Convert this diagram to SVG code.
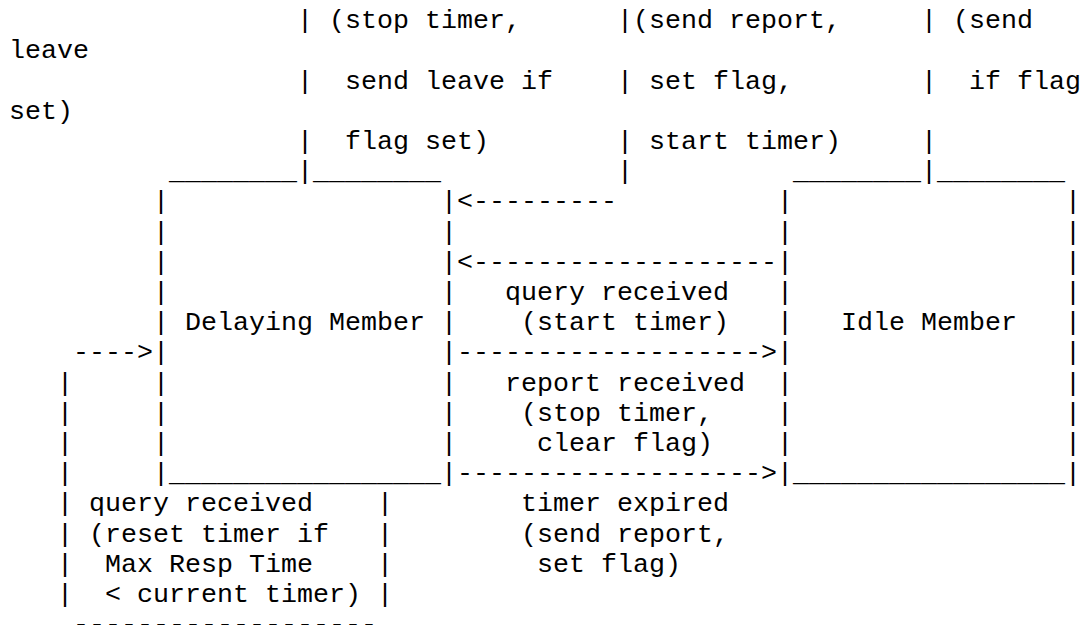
<svg xmlns="http://www.w3.org/2000/svg" width="1086" height="625" viewBox="0 0 1086 625">
<style>
text { font-family: "Liberation Mono", "Courier New", monospace; font-size: 26.667px; fill: #000; white-space: pre; }
</style>
<rect width="1086" height="625" fill="#fff"/>
<g id="node-delaying-member">
  <text x="169" y="179.15">________</text>
  <text x="313" y="179.15">________</text>
  <text x="153"><tspan x="153" y="209.36">|</tspan><tspan x="153" y="239.57">|</tspan><tspan x="153" y="269.78">|</tspan><tspan x="153" y="299.99">|</tspan><tspan x="153" y="330.2">|</tspan><tspan x="153" y="360.41">|</tspan><tspan x="153" y="390.62">|</tspan><tspan x="153" y="420.83">|</tspan><tspan x="153" y="451.04">|</tspan><tspan x="153" y="481.25">|</tspan></text>
  <text x="441"><tspan x="441" y="209.36">|</tspan><tspan x="441" y="239.57">|</tspan><tspan x="441" y="269.78">|</tspan><tspan x="441" y="299.99">|</tspan><tspan x="441" y="330.2">|</tspan><tspan x="441" y="360.41">|</tspan><tspan x="441" y="390.62">|</tspan><tspan x="441" y="420.83">|</tspan><tspan x="441" y="451.04">|</tspan><tspan x="441" y="481.25">|</tspan></text>
  <text x="169" y="481.25">_________________</text>
  <text x="185" y="330.2">Delaying Member</text>
</g>
<g id="node-idle-member">
  <text x="793" y="179.15">________</text>
  <text x="937" y="179.15">________</text>
  <text x="777"><tspan x="777" y="209.36">|</tspan><tspan x="777" y="239.57">|</tspan><tspan x="777" y="269.78">|</tspan><tspan x="777" y="299.99">|</tspan><tspan x="777" y="330.2">|</tspan><tspan x="777" y="360.41">|</tspan><tspan x="777" y="390.62">|</tspan><tspan x="777" y="420.83">|</tspan><tspan x="777" y="451.04">|</tspan><tspan x="777" y="481.25">|</tspan></text>
  <text x="1065"><tspan x="1065" y="209.36">|</tspan><tspan x="1065" y="239.57">|</tspan><tspan x="1065" y="269.78">|</tspan><tspan x="1065" y="299.99">|</tspan><tspan x="1065" y="330.2">|</tspan><tspan x="1065" y="360.41">|</tspan><tspan x="1065" y="390.62">|</tspan><tspan x="1065" y="420.83">|</tspan><tspan x="1065" y="451.04">|</tspan><tspan x="1065" y="481.25">|</tspan></text>
  <text x="793" y="481.25">_________________</text>
  <text x="841" y="330.2">Idle Member</text>
</g>
<g id="connectors">
  <!-- leave from Delaying Member (top-left) -->
  <text x="297"><tspan x="297" y="28.1">|</tspan><tspan x="297" y="88.52">|</tspan><tspan x="297" y="148.94">|</tspan><tspan x="297" y="179.15">|</tspan></text>
  <text x="329" y="28.1">(stop timer,</text>
  <text x="345" y="88.52">send leave if</text>
  <text x="345" y="148.94">flag set)</text>
  <!-- join group into Delaying Member -->
  <text x="617"><tspan x="617" y="28.1">|</tspan><tspan x="617" y="88.52">|</tspan><tspan x="617" y="148.94">|</tspan><tspan x="617" y="179.15">|</tspan></text>
  <text x="633" y="28.1">(send report,</text>
  <text x="649" y="88.52">set flag,</text>
  <text x="649" y="148.94">start timer)</text>
  <text x="457" y="209.36">&lt;---------</text>
  <!-- leave from Idle Member (top-right) -->
  <text x="921"><tspan x="921" y="28.1">|</tspan><tspan x="921" y="88.52">|</tspan><tspan x="921" y="148.94">|</tspan><tspan x="921" y="179.15">|</tspan></text>
  <text x="953" y="28.1">(send</text>
  <text x="9" y="58.31">leave</text>
  <text x="969" y="88.52">if flag</text>
  <text x="9" y="118.73">set)</text>
  <!-- query received: Idle -> Delaying -->
  <text x="457" y="269.78">&lt;-------------------</text>
  <text x="505" y="299.99">query received</text>
  <text x="521" y="330.2">(start timer)</text>
  <!-- report received: Delaying -> Idle -->
  <text x="457" y="360.41">-------------------&gt;</text>
  <text x="505" y="390.62">report received</text>
  <text x="521" y="420.83">(stop timer,</text>
  <text x="537" y="451.04">clear flag)</text>
  <!-- timer expired: Delaying -> Idle -->
  <text x="457" y="481.25">-------------------&gt;</text>
  <text x="521" y="511.46">timer expired</text>
  <text x="521" y="541.67">(send report,</text>
  <text x="537" y="571.88">set flag)</text>
  <!-- self loop on Delaying Member -->
  <text x="73" y="360.41">----&gt;</text>
  <text x="57"><tspan x="57" y="390.62">|</tspan><tspan x="57" y="420.83">|</tspan><tspan x="57" y="451.04">|</tspan><tspan x="57" y="481.25">|</tspan><tspan x="57" y="511.46">|</tspan><tspan x="57" y="541.67">|</tspan><tspan x="57" y="571.88">|</tspan><tspan x="57" y="602.09">|</tspan></text>
  <text x="377"><tspan x="377" y="511.46">|</tspan><tspan x="377" y="541.67">|</tspan><tspan x="377" y="571.88">|</tspan><tspan x="377" y="602.09">|</tspan></text>
  <text x="89" y="511.46">query received</text>
  <text x="89" y="541.67">(reset timer if</text>
  <text x="105" y="571.88">Max Resp Time</text>
  <text x="105" y="602.09">&lt; current timer)</text>
  <text x="73" y="632.3">-------------------</text>
</g>
</svg>
